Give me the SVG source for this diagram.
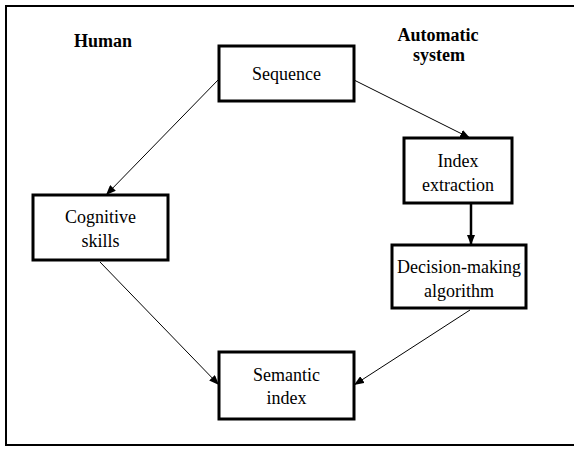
<svg xmlns="http://www.w3.org/2000/svg" width="574" height="450" viewBox="0 0 574 450">
<style>
text{font-family:"Liberation Serif","Times New Roman","Noto Serif","DejaVu Serif",serif;font-size:18px;text-anchor:middle;fill:#000}
.h{font-weight:bold}
.box{fill:#fff;stroke:#000;stroke-width:3}
.c{stroke:#000;stroke-width:1;fill:none}
.thick{stroke-width:2.5}
</style>
<defs>
<marker id="ah" viewBox="0 0 10 8" refX="10" refY="4" markerWidth="10" markerHeight="8" markerUnits="userSpaceOnUse" orient="auto">
<path d="M0,0 L10,4 L0,8 Z" fill="#000"/>
</marker>
</defs>
<path d="M574,6 H6 V445 H574" fill="none" stroke="#000" stroke-width="2"/>
<text class="h" x="103" y="47">Human</text>
<text class="h" x="438" y="41">Automatic</text>
<text class="h" x="439" y="61">system</text>
<g id="connectors">
<line class="c" x1="219" y1="79" x2="106" y2="195" marker-end="url(#ah)"/>
<line class="c" x1="354" y1="80" x2="470" y2="138" marker-end="url(#ah)"/>
<line class="c thick" x1="471" y1="203" x2="471" y2="245" marker-end="url(#ah)"/>
<line class="c" x1="100" y1="262" x2="219" y2="385" marker-end="url(#ah)"/>
<line class="c" x1="470" y1="310" x2="354" y2="385" marker-end="url(#ah)"/>
</g>
<g id="sequence">
<rect class="box" x="219" y="46" width="135" height="55"/>
<text x="286.5" y="80">Sequence</text>
</g>
<g id="index-extraction">
<rect class="box" x="404" y="138" width="108" height="65"/>
<text x="458" y="167">Index</text>
<text x="458" y="191">extraction</text>
</g>
<g id="decision">
<rect class="box" x="392" y="245" width="134" height="63"/>
<text x="459" y="273">Decision-making</text>
<text x="459" y="297">algorithm</text>
</g>
<g id="cognitive">
<rect class="box" x="33" y="195" width="135" height="65"/>
<text x="100.5" y="223">Cognitive</text>
<text x="100.5" y="247">skills</text>
</g>
<g id="semantic">
<rect class="box" x="219" y="352" width="135" height="67"/>
<text x="286.5" y="381">Semantic</text>
<text x="286.5" y="404">index</text>
</g>
</svg>
